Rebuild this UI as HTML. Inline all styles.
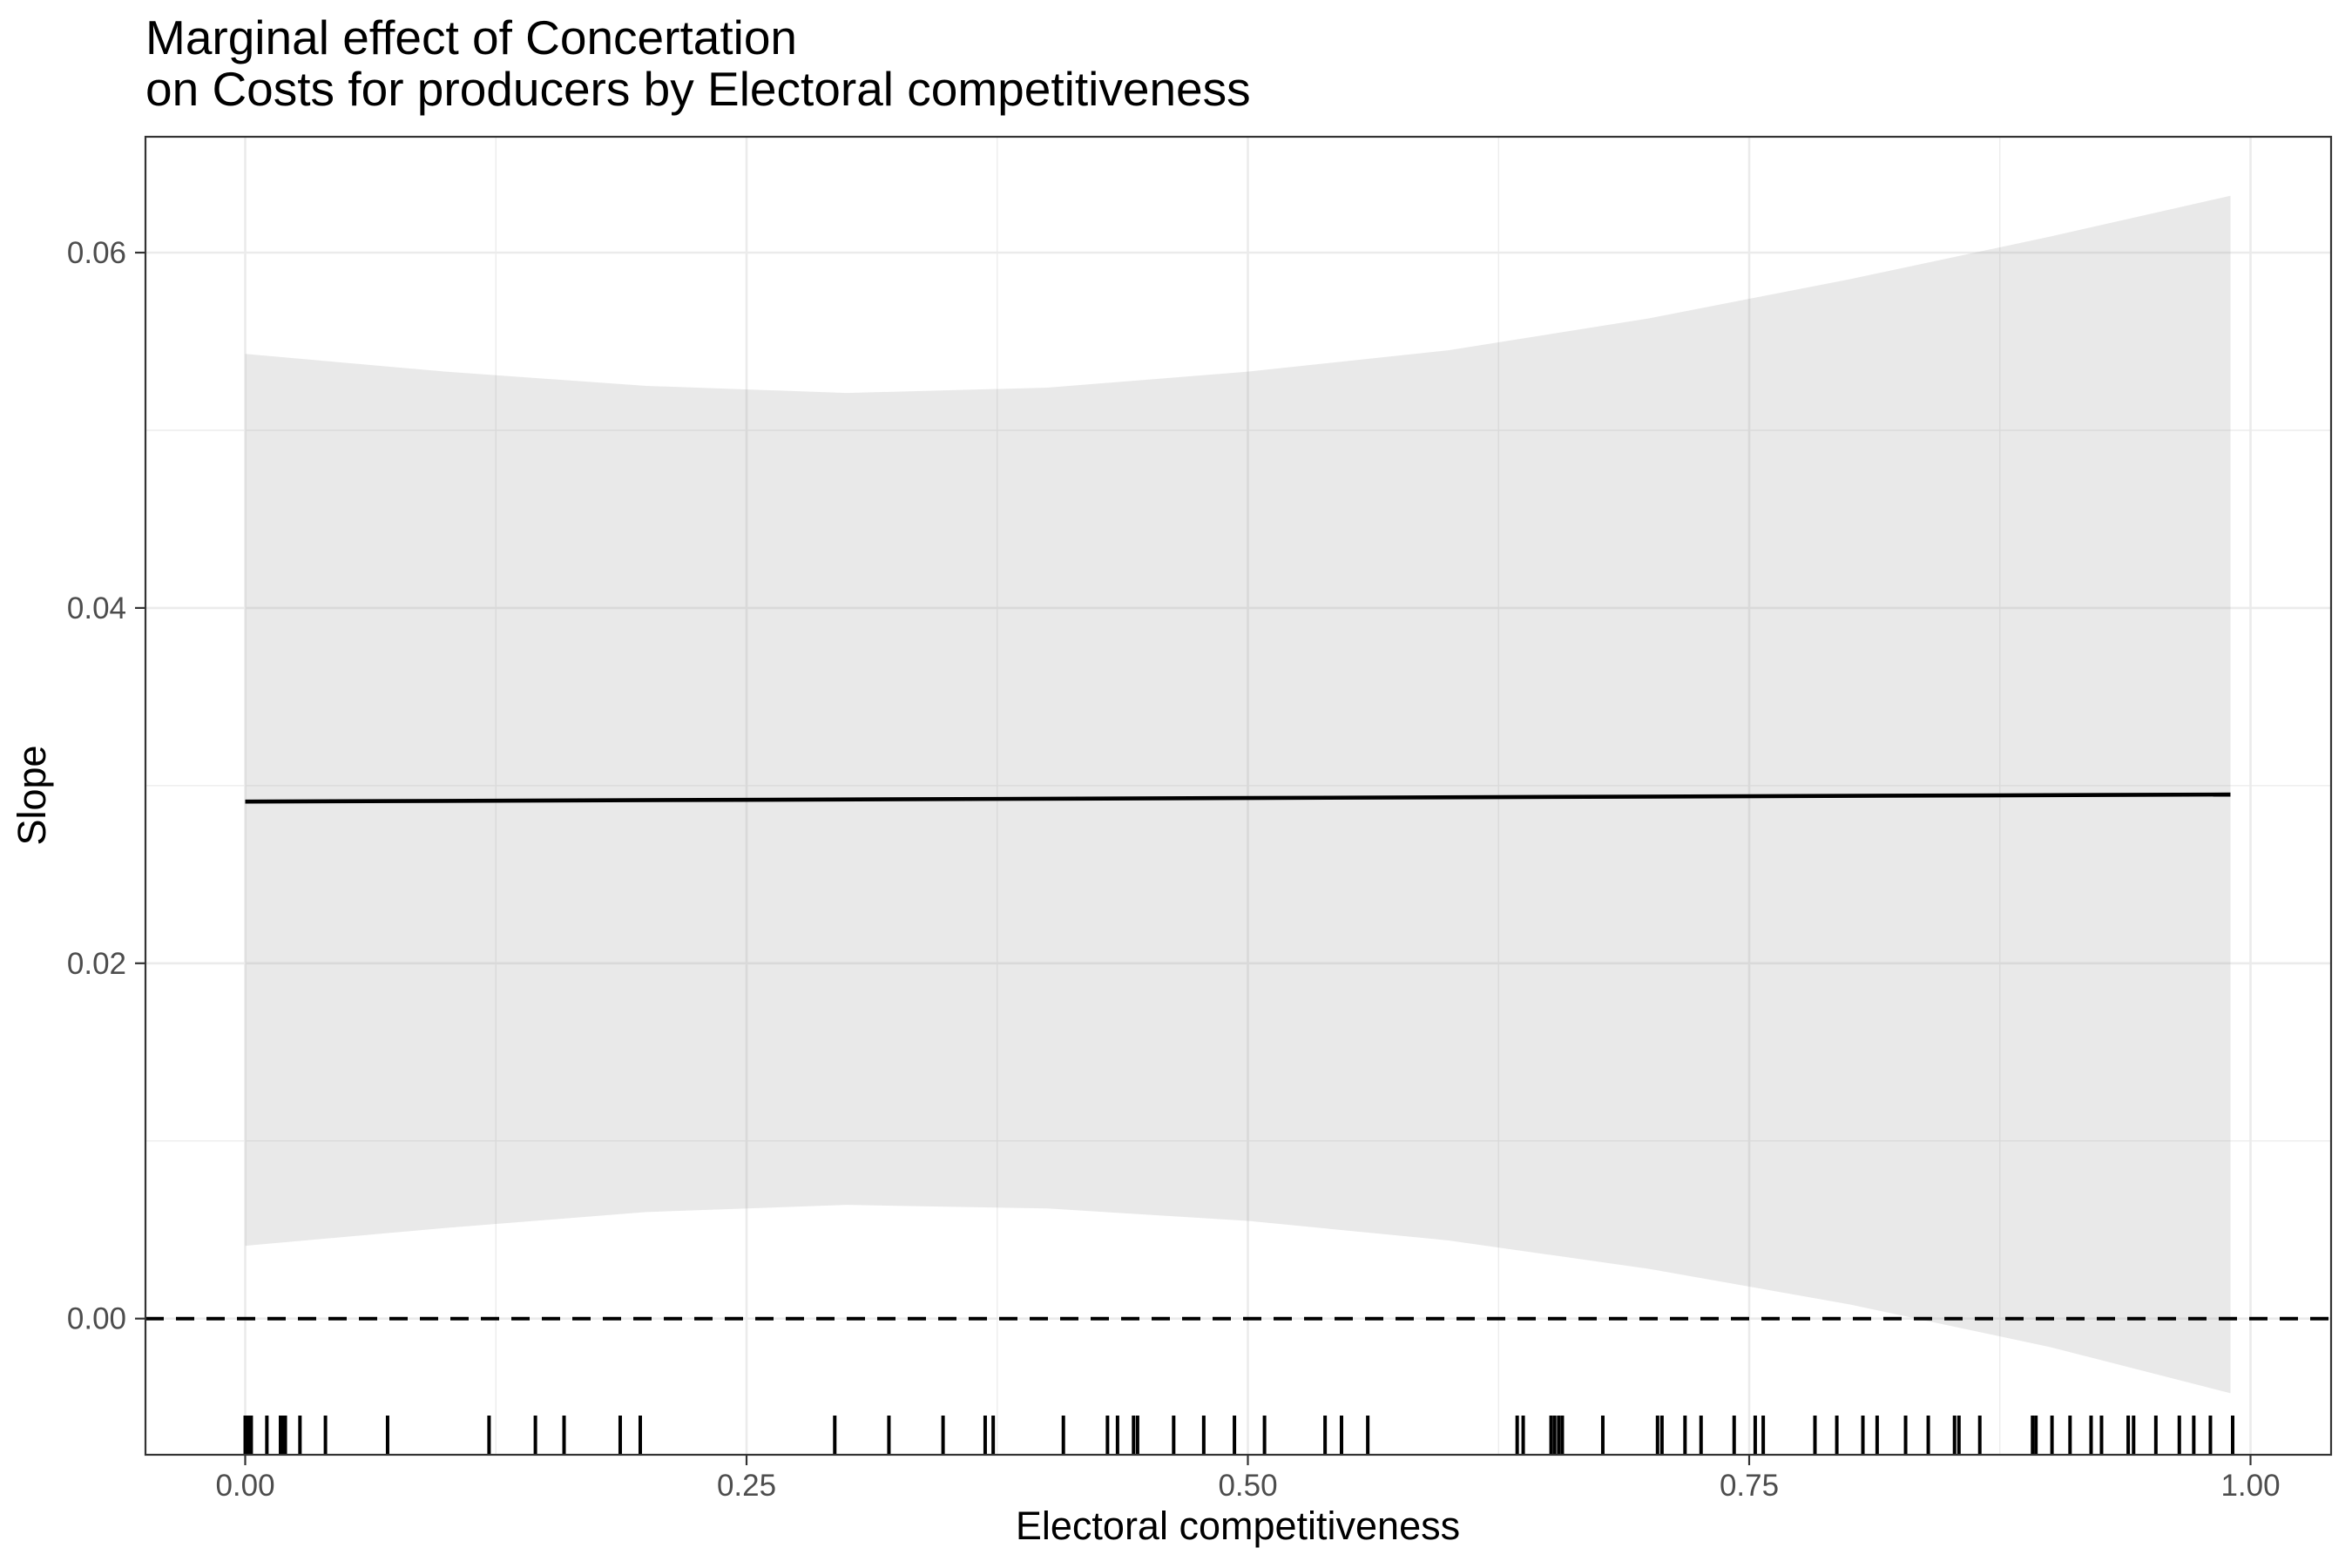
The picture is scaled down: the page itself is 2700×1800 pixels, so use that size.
<!DOCTYPE html>
<html><head><meta charset="utf-8"><style>
html,body{margin:0;padding:0;background:#fff;}
svg{display:block;font-family:"Liberation Sans",Arial,sans-serif;}
</style></head><body>
<svg id="chart" width="2700" height="1800" viewBox="0 0 2700 1800" xmlns="http://www.w3.org/2000/svg">
<rect width="2700" height="1800" fill="#fff"/>
<text x="167" y="62" font-size="55" fill="#000">Marginal effect of Concertation</text>
<text x="167" y="121" font-size="55" fill="#000">on Costs for producers by Electoral competitiveness</text>
<g id="grid"></g>
<g id="marks"></g>
<rect x="167" y="157" width="2509" height="1513" fill="none" stroke="#333" stroke-width="2.2"/>
<g id="axes"></g>
<text x="1421" y="1767" font-size="45" text-anchor="middle" fill="#000">Electoral competitiveness</text>
<text transform="translate(52,913) rotate(-90)" font-size="45" text-anchor="middle" fill="#000">Slope</text>
</svg>
<script>
const xTicks = [0, 0.25, 0.5, 0.75, 1.0];
const xTickLabels = ["0.00", "0.25", "0.50", "0.75", "1.00"];
const xMinor = [0.125, 0.375, 0.625, 0.875];
const yTicks = [0, 0.02, 0.04, 0.06];
const yTickLabels = ["0.00", "0.02", "0.04", "0.06"];
const yMinor = [0.01, 0.03, 0.05];
const bandX = [0, 0.1, 0.2, 0.3, 0.4, 0.5, 0.6, 0.7, 0.8, 0.9, 0.99];
const bandUpper = [0.0543, 0.0533, 0.0525, 0.0521, 0.0524, 0.0533, 0.0545, 0.0563, 0.0585, 0.0609, 0.0632];
const bandLower = [0.0041, 0.0051, 0.0060, 0.0064, 0.0062, 0.0055, 0.0044, 0.0028, 0.0008, -0.0016, -0.0042];
const lineX = [0, 0.99];
const lineY = [0.0291, 0.0295];
const rugValues = [0, 0.0015, 0.003, 0.0108, 0.0176, 0.019, 0.020, 0.0273, 0.040, 0.071, 0.1216, 0.1447, 0.159, 0.187, 0.197, 0.294, 0.321, 0.348, 0.369, 0.373, 0.408, 0.430, 0.435, 0.443, 0.445, 0.463, 0.478, 0.4933, 0.5083, 0.5385, 0.5467, 0.5598, 0.6343, 0.6373, 0.6512, 0.653, 0.655, 0.6568, 0.677, 0.7043, 0.7065, 0.718, 0.726, 0.7425, 0.753, 0.757, 0.7828, 0.7937, 0.8067, 0.8138, 0.828, 0.8393, 0.8524, 0.8546, 0.865, 0.8913, 0.893, 0.901, 0.910, 0.9205, 0.9257, 0.939, 0.9417, 0.9528, 0.9645, 0.9717, 0.980, 0.9911];

const NS = "http://www.w3.org/2000/svg";
const PL = 167, PR = 2676, PT = 157, PB = 1670;
function xs(v){ return 281.5 + v * 2302; }
function ys(v){ return 1513.7 - v * 20395; }
function mk(tag, attrs, parent){
  const e = document.createElementNS(NS, tag);
  for (const k in attrs) e.setAttribute(k, attrs[k]);
  parent.appendChild(e); return e;
}
const grid = document.getElementById('grid');
const marks = document.getElementById('marks');
const axes = document.getElementById('axes');

xMinor.forEach(v => {
  const l = mk('line', {x1: xs(v), x2: xs(v), y1: PT, y2: PB, stroke: '#ebebeb', 'stroke-width': 1.3}, grid);
  
  
});
yMinor.forEach(v => {
  const l = mk('line', {x1: PL, x2: PR, y1: ys(v), y2: ys(v), stroke: '#ebebeb', 'stroke-width': 1.3}, grid);
  
  
});
xTicks.forEach(v => {
  const l = mk('line', {x1: xs(v), x2: xs(v), y1: PT, y2: PB, stroke: '#ebebeb', 'stroke-width': 2.6}, grid);
  
  
});
yTicks.forEach(v => {
  const l = mk('line', {x1: PL, x2: PR, y1: ys(v), y2: ys(v), stroke: '#ebebeb', 'stroke-width': 2.6}, grid);
  
  
});

let d = '';
bandX.forEach((x, i) => { d += (i ? 'L' : 'M') + xs(x) + ',' + ys(bandUpper[i]); });
for (let i = bandX.length - 1; i >= 0; i--) d += 'L' + xs(bandX[i]) + ',' + ys(bandLower[i]);
d += 'Z';
const band = mk('path', {d: d, fill: '#999999', 'fill-opacity': 0.22}, marks);



const zero = mk('line', {x1: PL, x2: PR, y1: ys(0), y2: ys(0), stroke: '#000', 'stroke-width': 4, 'stroke-dasharray': '21 14'}, marks);



let ld = '';
lineX.forEach((x, i) => { ld += (i ? 'L' : 'M') + xs(x) + ',' + ys(lineY[i]); });
const sl = mk('path', {d: ld, fill: 'none', stroke: '#000', 'stroke-width': 4.6}, marks);



rugValues.forEach(v => {
  const r = mk('line', {x1: xs(v), x2: xs(v), y1: 1625, y2: PB, stroke: '#000', 'stroke-width': 4}, marks);
  
  
});

xTicks.forEach((v, i) => {
  const t = mk('line', {x1: xs(v), x2: xs(v), y1: PB, y2: PB + 12, stroke: '#333', 'stroke-width': 2.2}, axes);
  
  
  const tx = mk('text', {x: xs(v), y: 1717, 'font-size': 35, 'text-anchor': 'middle', fill: '#4d4d4d'}, axes);
  tx.textContent = xTickLabels[i];
  
  
});
yTicks.forEach((v, i) => {
  const t = mk('line', {x1: PL - 12, x2: PL, y1: ys(v), y2: ys(v), stroke: '#333', 'stroke-width': 2.2}, axes);
  
  
  const tx = mk('text', {x: 145, y: ys(v) + 12, 'font-size': 35, 'text-anchor': 'end', fill: '#4d4d4d'}, axes);
  tx.textContent = yTickLabels[i];
  
  
});
</script>
</body></html>
